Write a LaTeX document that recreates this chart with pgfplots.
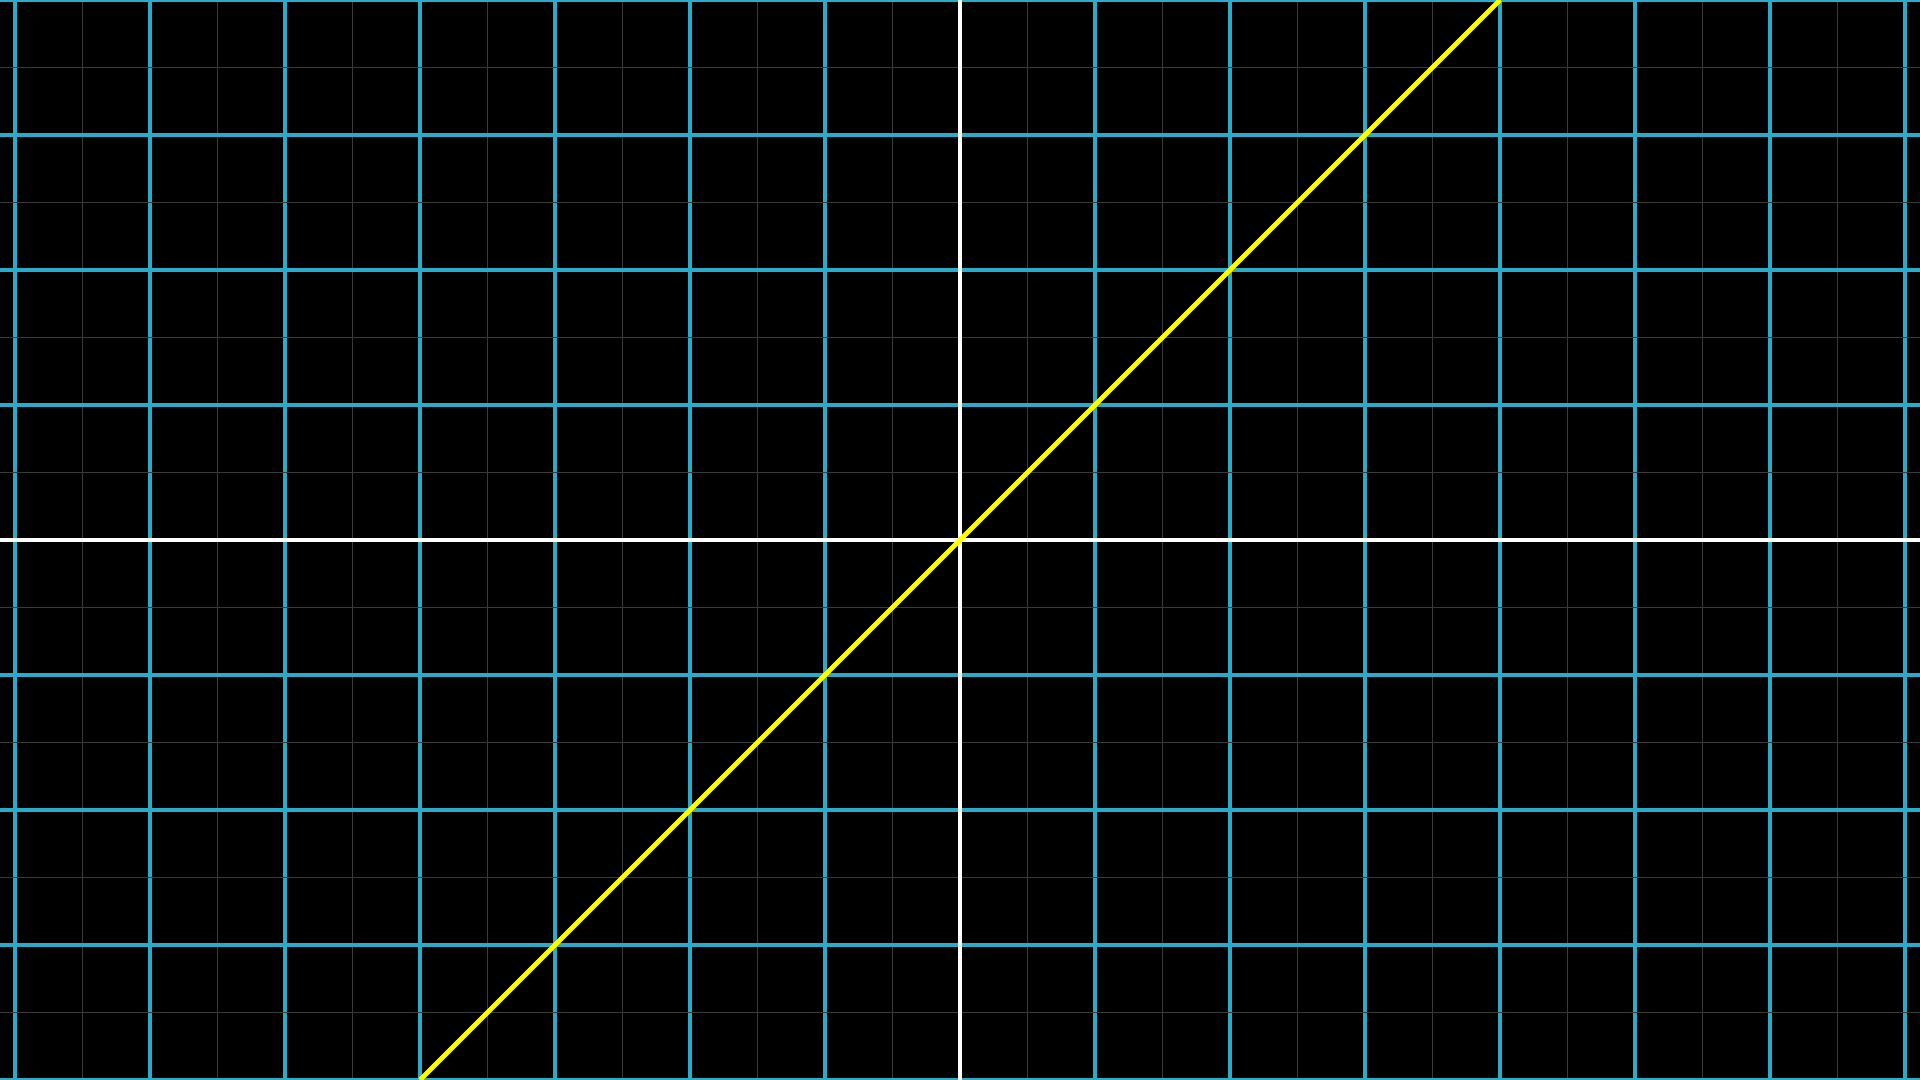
\documentclass[border=0pt]{standalone}
\usepackage{pgfplots}
\pgfplotsset{compat=1.18}
\definecolor{blued}{HTML}{29ABCA}
\definecolor{faint}{HTML}{3A3A3A}
\definecolor{manimyellow}{HTML}{FFFF00}
\begin{document}
\begin{tikzpicture}
\begin{axis}[
  scale only axis,
  width=14.2222cm, height=8cm,
  xmin=-7.1111, xmax=7.1111, ymin=-4, ymax=4,
  axis background/.style={fill=black},
  axis line style={draw=none},
  xtick={-7,...,7}, ytick={-4,...,4},
  minor tick num=1,
  xticklabels={}, yticklabels={},
  major tick length=0pt, minor tick length=0pt,
  grid=both,
  major grid style={blued, line width=0.85pt},
  minor grid style={faint, line width=0.3pt},
  clip=true,
]
\addplot[white, line width=0.85pt] coordinates {(-7.1111,0) (7.1111,0)};
\addplot[white, line width=0.85pt] coordinates {(0,-4) (0,4)};
\addplot[manimyellow, line width=1.0pt] coordinates {(-4,-4) (4,4)};
\end{axis}
\pgfresetboundingbox
\path (current axis.south west) rectangle (current axis.north east);
\end{tikzpicture}
\end{document}
